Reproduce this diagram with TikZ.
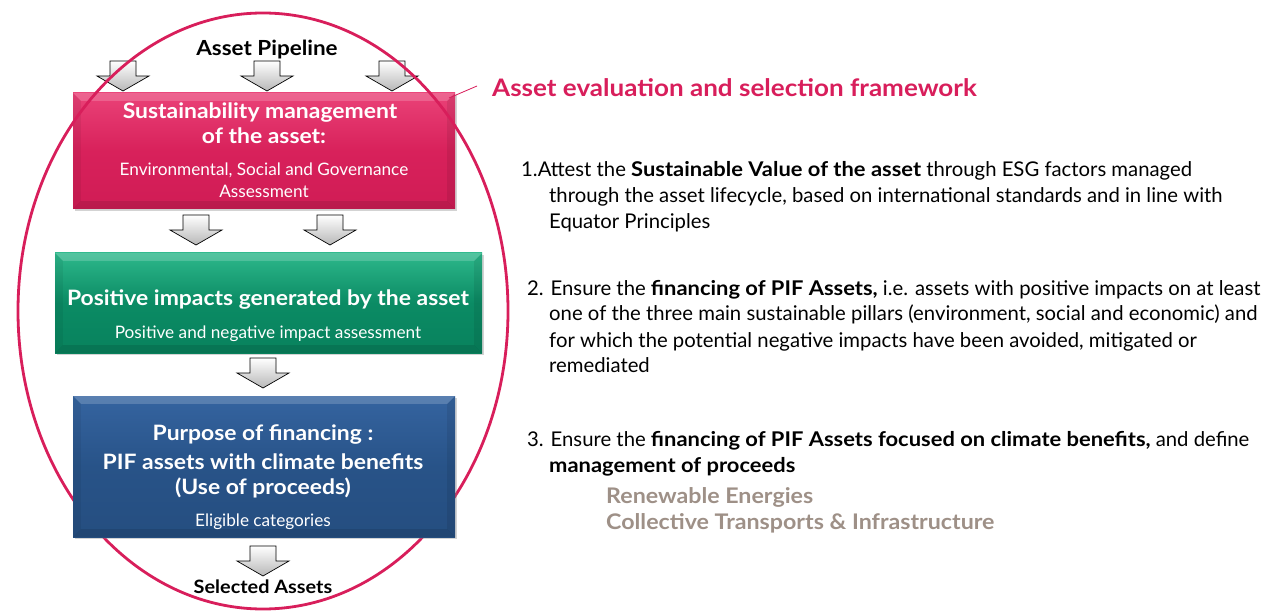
\documentclass[tikz,border=0pt]{standalone}
\usepackage{fontspec}
\setmainfont{Lato}[BoldFeatures={FakeStretch=1.08}]
\usetikzlibrary{shadows,calc}
\definecolor{crim}{HTML}{D81E5B}
\definecolor{pinkL}{HTML}{EA4278}
\definecolor{pinkM}{HTML}{D8215B}
\definecolor{pinkD}{HTML}{D01C55}
\definecolor{greenL}{HTML}{2DB88B}
\definecolor{greenM}{HTML}{0B8B64}
\definecolor{greenD}{HTML}{08825D}
\definecolor{blueL}{HTML}{3564A0}
\definecolor{blueM}{HTML}{285388}
\definecolor{blueD}{HTML}{254E80}
\definecolor{taupe}{HTML}{9E9087}
\tikzset{
  bigbox/.style={draw=none, drop shadow={opacity=0.35, shadow xshift=2pt, shadow yshift=-2pt}},
  boxtitle/.style={text=white, font=\bfseries\fontsize{21.2}{24}\selectfont, inner sep=0pt},
  boxsub/.style={text=white, font=\fontsize{17.2}{20}\selectfont, inner sep=0pt},
  bodyline/.style={anchor=base west, inner sep=0pt, font=\fontsize{20.3}{24}\selectfont},
  garrow/.pic={
    \shade[top color=white, bottom color=black!28, draw=black, line width=0.7pt]
      (-13,0) -- (13,0) -- (13,15) -- (26,15) -- (0,30) -- (-26,15) -- (-13,15) -- cycle;
  }
}
\newcommand{\bevelbox}[1]{%
  \fill[white, opacity=0.18] (#1.north west) -- (#1.north east) -- ++(-8,8) -- ($(#1.north west)+(8,8)$) -- cycle;
  \fill[black, opacity=0.06] (#1.north west) -- ($(#1.north west)+(8,8)$) -- ($(#1.south west)+(8,-8)$) -- (#1.south west) -- cycle;
  \fill[black, opacity=0.08] (#1.north east) -- ($(#1.north east)+(-8,8)$) -- ($(#1.south east)+(-8,-8)$) -- (#1.south east) -- cycle;
  \fill[black, opacity=0.10] (#1.south west) -- ($(#1.south west)+(8,-8)$) -- ($(#1.south east)+(-8,-8)$) -- (#1.south east) -- cycle;
}
\begin{document}
\begin{tikzpicture}[x=1pt,y=-1pt]
\useasboundingbox (0,0) rectangle (1261,612);

% top arrows
\pic at (123,61) {garrow};
\pic at (267,61) {garrow};
\pic at (392,61) {garrow};
\node[inner sep=0pt, font=\bfseries\fontsize{20.8}{24}\selectfont] (pipe) at (267,50) {Asset Pipeline};

% pink box
\node[bigbox, minimum width=382pt, minimum height=116pt, top color=pinkL, bottom color=pinkD, middle color=pinkM] (pink) at (264,151) {};
\bevelbox{pink}
\node[boxtitle] (p1) at (260,113) {Sustainability management};
\node[boxtitle] (p2) at (264,136) {of the asset:};
\node[boxsub] (p3) at (264,170) {Environmental, Social and Governance};
\node[boxsub] (p4) at (264,191) {Assessment};

% ellipse over pink box
\draw[crim, line width=2.8pt] (263,311) ellipse [x radius=245, y radius=298];

% second row arrows
\pic at (196,215) {garrow};
\pic at (330,215) {garrow};

% green box
\node[bigbox, minimum width=427pt, minimum height=100pt, top color=greenL, bottom color=greenD, middle color=greenM] (green) at (268.5,303) {};
\bevelbox{green}
\node[boxtitle] (g1) at (268,300) {Positive impacts generated by the asset};
\node[boxsub] (g2) at (268,334) {Positive and negative impact assessment};

\pic at (263,358) {garrow};

% blue box
\node[bigbox, minimum width=382pt, minimum height=141pt, top color=blueL, bottom color=blueD, middle color=blueM] (blue) at (264,466.5) {};
\bevelbox{blue}
\node[boxtitle] (b1) at (263,435) {Purpose of financing :};
\node[boxtitle] (b2) at (263,462) {PIF assets with climate benefits};
\node[boxtitle] (b3) at (263,488) {(Use of proceeds)};
\node[boxsub] (b4) at (263,522) {Eligible categories};

\pic at (263,546) {garrow};
\node[inner sep=0pt, font=\bfseries\fontsize{18.4}{21}\selectfont] (sel) at (263,587) {Selected Assets};

% title and pointer line
\node[anchor=west, inner sep=0pt, text=crim, font=\bfseries\fontsize{24.1}{28}\selectfont] (title) at (492,88) {Asset evaluation and selection framework};
\coordinate (lnA) at (449,98);
\coordinate (lnB) at (477,86);
\draw[crim, line width=0.8pt] (lnA) -- (lnB);

% right text
\node[bodyline] (t11) at (521,177) {1.Attest the \textbf{Sustainable Value of the asset} through ESG factors managed};
\node[bodyline] (t12) at (549,203) {through the asset lifecycle, based on international standards and in line with};
\node[bodyline] (t13) at (549,229) {Equator Principles};

\node[bodyline] (t21) at (527,296) {2. Ensure the \textbf{financing of PIF Assets,} i.e. assets with positive impacts on at least};
\node[bodyline] (t22) at (549,321) {one of the three main sustainable pillars (environment, social and economic) and};
\node[bodyline] (t23) at (549,347) {for which the potential negative impacts have been avoided, mitigated or};
\node[bodyline] (t24) at (549,372) {remediated};

\node[bodyline] (t31) at (527,446) {3. Ensure the \textbf{financing of PIF Assets focused on climate benefits,} and define};
\node[bodyline] (t32) at (549,472) {\textbf{management of proceeds}};
\node[bodyline, text=taupe, font=\bfseries\fontsize{21.5}{24}\selectfont] (t33) at (606,503) {Renewable Energies};
\node[bodyline, text=taupe, font=\bfseries\fontsize{21.5}{24}\selectfont] (t34) at (606,529) {Collective Transports \& Infrastructure};
\end{tikzpicture}
\end{document}
